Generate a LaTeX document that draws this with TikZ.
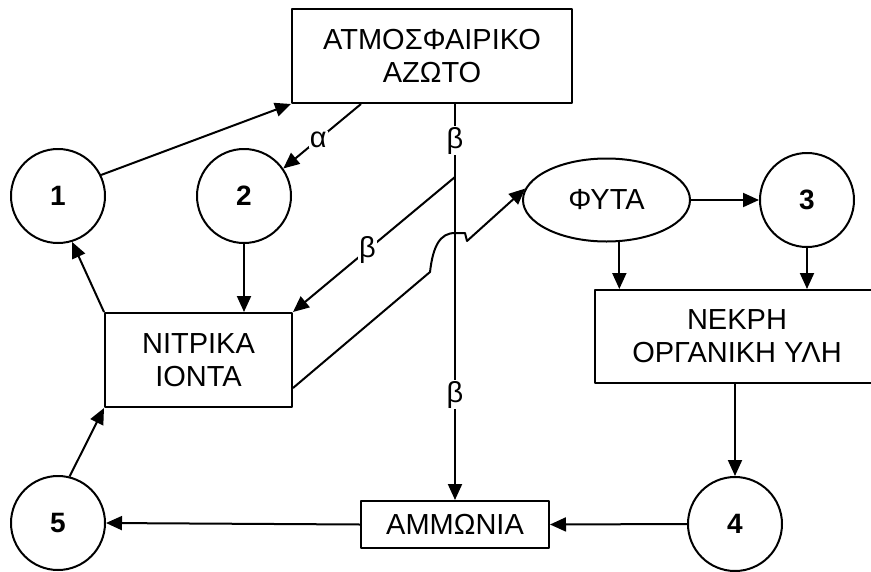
\documentclass[tikz,border=0pt]{standalone}
\usepackage{fontspec}
\setmainfont{Liberation Sans}
\usetikzlibrary{arrows.meta,calc,shapes.geometric}

\begin{document}
\begin{tikzpicture}[
  x=1pt, y=-1pt,
  >={Triangle[length=16pt,width=14pt]},
  line join=round,
  every node/.style={font=\fontsize{29}{33}\selectfont},
  box/.style={draw,line width=2pt,align=center,inner sep=0pt},
  ring/.style={draw,circle,line width=2pt,minimum size=94pt,inner sep=0pt,font=\fontsize{28}{30}\selectfont\bfseries},
  oval/.style={draw,ellipse,line width=2pt,minimum width=167pt,minimum height=83pt,inner sep=0pt},
  flow/.style={->,line width=2pt},
  lbl/.style={fill=white,inner sep=1pt}
]
\fill[white] (0,0) rectangle (871,571);
\useasboundingbox (0,0) rectangle (871,571);

% ------------------------------------------------------------------
% Pools
% ------------------------------------------------------------------
\node[box,minimum width=280pt,minimum height=94pt] (atm) at (432,56)
  {ΑΤΜΟΣΦΑΙΡΙΚΟ\\ΑΖΩΤΟ};
\node[box,minimum width=187pt,minimum height=94pt] (nitr) at (198.5,360)
  {ΝΙΤΡΙΚΑ\\ΙΟΝΤΑ};
\node[box,minimum width=284pt,minimum height=93pt] (dead) at (737,336.5)
  {ΝΕΚΡΗ\\ΟΡΓΑΝΙΚΗ ΥΛΗ};
\node[box,minimum width=188pt,minimum height=47pt] (amm) at (455,524.5)
  {ΑΜΜΩΝΙΑ};
\node[oval] (plants) at (606.5,200) {ΦΥΤΑ};

% processes
\node[ring] (c1) at (58,196) {1};
\node[ring] (c2) at (244,196) {2};
\node[ring] (c3) at (807,200) {3};
\node[ring] (c4) at (735,524) {4};
\node[ring] (c5) at (58,523) {5};

% ------------------------------------------------------------------
% Flows
% ------------------------------------------------------------------
\draw[flow] (c1.26) -- (atm.south west);
\draw[flow] ([xshift=70pt]atm.south west) -- node[lbl,pos=0.55]{α} (c2.35);

% fixation line
\draw[flow] (atm.south -| amm.north) -- node[lbl,pos=0.093]{β}
  node[lbl,pos=0.734]{β} (amm.north);
\coordinate (bsplit) at (amm.north |- 0,177);
\draw[flow] (bsplit) -- node[lbl,pos=0.54]{β} (nitr.north east);

\draw[flow] (c2) -- (c2 |- nitr.north);
\draw[flow] (nitr.north west) -- (c1.-73);

% uptake, hopping over the fixation line
\draw[flow] ([yshift=20pt]nitr.south east) -- (430,272)
  .. controls (433,246) and (440,233) .. (455,233) -- (465,233)
  -- (467,241) -- (plants.172);

\draw[flow] (plants.east) -- (c3.west);
\draw[flow] (plants.-73) -- (plants.-73 |- dead.north);
\draw[flow] (c3.south) -- (c3.south |- dead.north);
\draw[flow] (c4 |- dead.south) -- (c4.north);
\draw[flow] (c4.west) -- (amm.east);
\draw[flow] (amm.west) -- (c5.east);
\draw[flow] (c5.76) -- (nitr.south west);

\end{tikzpicture}
\end{document}
